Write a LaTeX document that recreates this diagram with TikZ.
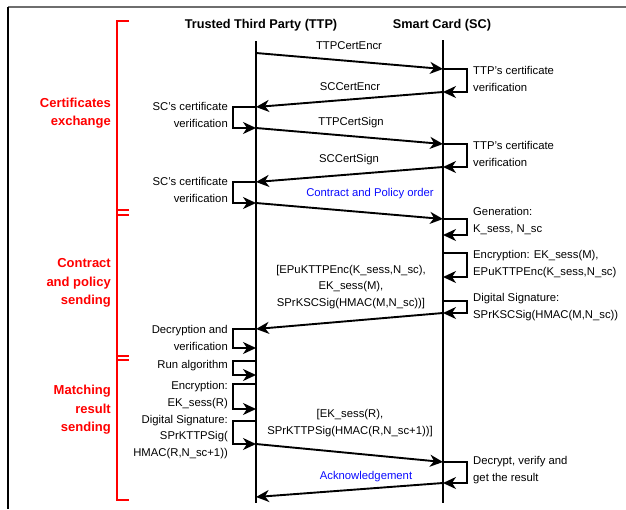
\documentclass[tikz,border=0pt]{standalone}
\usepackage{fontspec}
\setmainfont{Liberation Sans}
\usetikzlibrary{arrows.meta}
\definecolor{msgblue}{RGB}{10,10,255}
\definecolor{framegray}{RGB}{110,110,110}
\begin{document}
\begin{tikzpicture}[x=1pt,y=-1pt,
  tip/.tip={Stealth[length=13pt,width=12pt,inset=4pt]},
  lifeline/.style={line width=2.4pt},
  msg/.style={line width=1.9pt,-tip},
  selfloop/.style={line width=1.9pt,-tip},
  body/.style={font=\fontsize{11.3}{16.5}\selectfont,inner sep=0pt},
  lefttxt/.style={body,align=right,anchor=east},
  righttxt/.style={body,align=left,anchor=west},
  msgtxt/.style={body,align=center},
  bluetxt/.style={msgtxt,text=msgblue},
  phase/.style={font=\fontsize{13}{18.5}\selectfont\bfseries,text=red,align=right,anchor=east,inner sep=0pt},
  head/.style={font=\fontsize{12.7}{15}\selectfont\bfseries,inner sep=0pt},
  bracket/.style={red,line width=2.4pt}
]
\useasboundingbox (0,0) rectangle (626,509);

% frame lines
\draw[framegray,line width=1.5pt] (8,7) -- (626,7);
\draw[line width=1.5pt] (8,7) -- (8,509);

% participants
\node[head] (ttp) at (261,25) {Trusted Third Party (TTP)};
\node[head] (sc) at (442,25) {Smart Card (SC)};

% lifelines
\coordinate (ttpTop) at (256,41);
\coordinate (ttpBot) at (256,503);
\coordinate (scTop) at (443,40);
\coordinate (scBot) at (443,503);
\draw[lifeline] (ttpTop) -- (ttpBot);
\draw[lifeline] (scTop) -- (scBot);

% event points on the TTP lifeline
\coordinate (t1) at (256,53);
\coordinate (t4) at (256,107);
\coordinate (t5) at (256,128);
\coordinate (t8) at (256,182);
\coordinate (t9) at (256,203);
\coordinate (t16) at (256,329);
\coordinate (t17) at (256,348);
\coordinate (t18) at (256,361);
\coordinate (t19) at (256,375);
\coordinate (t20) at (256,384);
\coordinate (t21) at (256,409);
\coordinate (t22) at (256,421);
\coordinate (t23) at (256,444);
\coordinate (t26) at (256,497);

% event points on the SC lifeline
\coordinate (s2) at (443,69);
\coordinate (s3) at (443,92);
\coordinate (s6) at (443,144);
\coordinate (s7) at (443,167);
\coordinate (s10) at (443,219);
\coordinate (s11) at (443,235);
\coordinate (s12) at (443,253);
\coordinate (s13) at (443,277);
\coordinate (s14) at (443,301);
\coordinate (s15) at (443,313);
\coordinate (s24) at (443,462);
\coordinate (s25) at (443,483);

% messages
\draw[msg] (t1) -- (s2);
\draw[msg] (s3) -- (t4);
\draw[msg] (t5) -- (s6);
\draw[msg] (s7) -- (t8);
\draw[msg] (t9) -- (s10);
\draw[msg] (s15) -- (t16);
\draw[msg] (t23) -- (s24);
\draw[msg] (s25) -- (t26);

% local actions on the SC side
\draw[selfloop] (s2) -- ++(24,0) |- (s3);
\draw[selfloop] (s6) -- ++(24,0) |- (s7);
\draw[selfloop] (s10) -- ++(24,0) |- (s11);
\draw[selfloop] (s12) -- ++(24,0) |- (s13);
\draw[selfloop] (s14) -- ++(24,0) |- (s15);
\draw[selfloop] (s24) -- ++(24,0) |- (s25);

% local actions on the TTP side
\draw[selfloop] (t4) -- ++(-23,0) |- (t5);
\draw[selfloop] (t8) -- ++(-23,0) |- (t9);
\draw[selfloop] (t16) -- ++(-23,0) |- (t17);
\draw[selfloop] (t18) -- ++(-23,0) |- (t19);
\draw[selfloop] (t20) -- ++(-23,0) |- (t21);
\draw[selfloop] (t22) -- ++(-23,0) |- (t23);

% message labels
\node[msgtxt] (m1) at (349,46) {TTPCertEncr};
\node[msgtxt] (m2) at (350,87) {SCCertEncr};
\node[msgtxt] (m3) at (351,123) {TTPCertSign};
\node[msgtxt] (m4) at (349,160) {SCCertSign};
\node[bluetxt] (m5) at (370,194) {Contract and Policy order};
\node[msgtxt] (m6) at (351,287) {[EPuKTTPEnc(K\_sess,N\_sc),\\EK\_sess(M),\\SPrKSCSig(HMAC(M,N\_sc))]};
\node[msgtxt] (m7) at (350,423) {[EK\_sess(R),\\SPrKTTPSig(HMAC(R,N\_sc+1))]};
\node[bluetxt] (m8) at (366,477) {Acknowledgement};

% SC action labels
\node[righttxt] (a1) at (473,79) {TTP’s certificate\\verification};
\node[righttxt] (a2) at (473,154) {TTP’s certificate\\verification};
\node[righttxt] (a3) at (473,221) {Generation:\\K\_sess, N\_sc};
\node[righttxt] (a4) at (473,264) {Encryption: EK\_sess(M),\\EPuKTTPEnc(K\_sess,N\_sc)};
\node[righttxt] (a5) at (473,307) {Digital Signature:\\SPrKSCSig(HMAC(M,N\_sc))};
\node[righttxt] (a6) at (473,470) {Decrypt, verify and\\get the result};

% TTP action labels
\node[lefttxt] (b1) at (228,115) {SC’s certificate\\verification};
\node[lefttxt] (b2) at (228,190) {SC’s certificate\\verification};
\node[lefttxt] (b3) at (228,338) {Decryption and\\verification};
\node[lefttxt] (b4) at (228,366) {Run algorithm};
\node[lefttxt] (b5) at (228,395) {Encryption:\\EK\_sess(R)};
\node[lefttxt] (b6) at (228,437) {Digital Signature:\\SPrKTTPSig(\\HMAC(R,N\_sc+1))};

% phase brackets
\draw[bracket] (129,21) -- (117,21) -- (117,500) -- (129,500);
\draw[bracket] (117,210) -- (129,210);
\draw[bracket] (117,215) -- (129,215);
\draw[bracket] (117,356) -- (129,356);
\draw[bracket] (117,360) -- (129,360);

% phase names
\node[phase] (p1) at (111,113) {Certificates\\exchange};
\node[phase] (p2) at (111,283) {Contract\\and policy\\sending};
\node[phase] (p3) at (111,410) {Matching\\result\\sending};
\end{tikzpicture}
\end{document}
